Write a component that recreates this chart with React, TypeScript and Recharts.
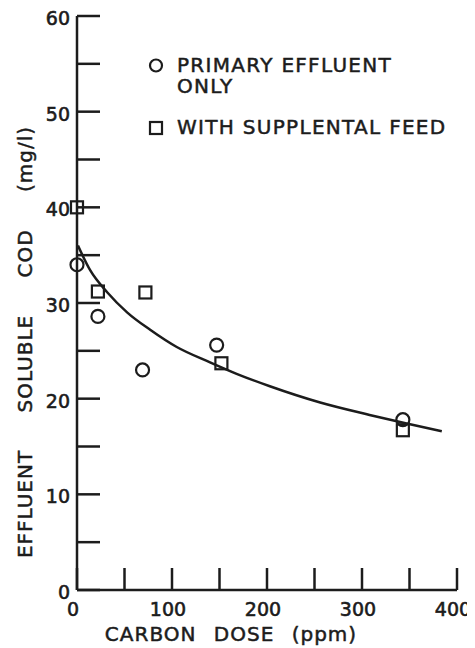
import { ComposedChart, XAxis, YAxis, Line, Scatter, Legend, Label } from 'recharts';

// axis ticks (every tick is drawn inside the frame, only some carry a number)
const doseTicks = [0, 50, 100, 150, 200, 250, 300, 350, 400];
const doseLabels = [0, 100, 200, 300, 400];
const codTicks = [0, 5, 10, 15, 20, 25, 30, 35, 40, 45, 50, 55, 60];
const codLabels = [0, 10, 20, 30, 40, 50, 60];

const seriesNames = ['PRIMARY EFFLUENT\nONLY', 'WITH SUPPLENTAL FEED'];

// measured points
const primaryDose = [0, 22, 69, 147, 343];
const primaryCod = [34.0, 28.6, 23.0, 25.6, 17.8];
const supplementDose = [0, 22, 72, 152, 343];
const supplementCod = [40.0, 31.2, 31.1, 23.7, 16.7];

// hand-drawn fitted curve
const fitDose = [1, 14, 32, 53, 77, 105, 140, 168, 203, 256, 308, 347, 384];
const fitCod = [36.0, 33.4, 31.1, 29.0, 27.2, 25.4, 23.8, 22.6, 21.3, 19.6, 18.3, 17.4, 16.6];

const INK = '#1c1c1c';
const FONT = '"DejaVu Sans", sans-serif';

const toRows = (xs: number[], ys: number[]) => xs.map((dose, i) => ({ dose, cod: ys[i] }));
const primary = toRows(primaryDose, primaryCod);
const supplement = toRows(supplementDose, supplementCod);
const fit = toRows(fitDose, fitCod);

const tickText = { fontFamily: FONT, fontSize: 19, fill: INK, stroke: INK, strokeWidth: 0.6 };

const BottomTick = ({ x, y, payload }: any) => (
  <g>
    <line x1={x} x2={x} y1={y} y2={y - 22} stroke={INK} strokeWidth={2.5} />
    {doseLabels.includes(payload.value) && (
      <text x={x - 4} y={y + 26} textAnchor="middle" {...tickText}>{payload.value}</text>
    )}
  </g>
);

const TopTick = ({ x, y }: any) => (
  <line x1={x} x2={x} y1={y} y2={y + 20} stroke={INK} strokeWidth={2.5} />
);

const LeftTick = ({ x, y, payload }: any) => (
  <g>
    <line x1={x} x2={x + 23} y1={y} y2={y} stroke={INK} strokeWidth={2.5} />
    {codLabels.includes(payload.value) && (
      <text x={x - 7} y={y + 9} textAnchor="end" {...tickText}>{payload.value}</text>
    )}
  </g>
);

const RightTick = ({ x, y }: any) => (
  <line x1={x} x2={x - 20} y1={y} y2={y} stroke={INK} strokeWidth={2.5} />
);

const OpenCircle = (p: any) => (
  <circle cx={p.cx} cy={p.cy} r={6.5} fill="none" stroke={INK} strokeWidth={2.2} />
);

const OpenSquare = (p: any) => (
  <rect x={p.cx - 6} y={p.cy - 6} width={12} height={12} fill="none" stroke={INK} strokeWidth={2.2} />
);

const LegendBox = ({ payload }: any) => (
  <div style={{ fontFamily: FONT, fontSize: 20, lineHeight: '21px', letterSpacing: 1.3, color: INK,
    WebkitTextStroke: '0.5px ' + INK }}>
    {(payload || []).filter((e: any) => seriesNames.includes(e.value)).map((entry: any, i: number) => (
      <div key={i} style={{ display: 'flex', alignItems: 'flex-start', marginBottom: 20 }}>
        <svg width={16} height={21} style={{ flex: 'none' }}>
          {entry.value === seriesNames[0]
            ? <circle cx={8} cy={10.5} r={6} fill="none" stroke={INK} strokeWidth={2.2} />
            : <rect x={2} y={5} width={12} height={12} fill="none" stroke={INK} strokeWidth={2.2} />}
        </svg>
        <span style={{ marginLeft: 13, whiteSpace: 'pre' }}>{entry.value}</span>
      </div>
    ))}
  </div>
);

const XTitle = ({ viewBox }: any) => (
  <text x={viewBox.x + 154} y={viewBox.y + 51} textAnchor="middle" fontFamily={FONT} fontSize={20}
    fill={INK} stroke={INK} strokeWidth={0.5} letterSpacing={1} wordSpacing={10}>
    CARBON DOSE (ppm)
  </text>
);

const YTitle = ({ viewBox }: any) => {
  const cx = viewBox.x + 24;
  const cy = viewBox.y + 326;
  return (
    <text x={cx} y={cy} transform={`rotate(-90, ${cx}, ${cy})`} textAnchor="middle" fontFamily={FONT}
      fontSize={20} fill={INK} stroke={INK} strokeWidth={0.5} letterSpacing={1} wordSpacing={30}>
      EFFLUENT SOLUBLE COD (mg/l)
    </text>
  );
};

export default function App() {
  const frame = { stroke: INK, strokeWidth: 2.5 };
  return (
    <ComposedChart width={467} height={640} margin={{ top: 8, right: 18, bottom: 0, left: 0 }}>
      <XAxis xAxisId="bottom" type="number" dataKey="dose" domain={[0, 400]} ticks={doseTicks} interval={0}
        height={58} tickSize={0} tickMargin={0} axisLine={frame} tick={<BottomTick />}>
        <Label content={<XTitle />} />
      </XAxis>
      <XAxis xAxisId="top" orientation="top" type="number" dataKey="dose" domain={[0, 400]} ticks={doseTicks}
        interval={0} height={0} tickSize={0} tickMargin={0} axisLine={frame} tick={<TopTick />} />
      <YAxis yAxisId="left" type="number" domain={[0, 60]} ticks={codTicks} interval={0} width={69}
        tickSize={0} tickMargin={0} axisLine={frame} tick={<LeftTick />}>
        <Label content={<YTitle />} />
      </YAxis>
      <YAxis yAxisId="right" orientation="right" type="number" domain={[0, 60]} ticks={codTicks} interval={0}
        width={0} tickSize={0} tickMargin={0} axisLine={frame} tick={<RightTick />} />
      <Legend layout="vertical" verticalAlign="middle" align="center" content={<LegendBox />}
        wrapperStyle={{ top: 47, left: 140, width: 320, height: 'auto' }} />
      <Line xAxisId="bottom" yAxisId="left" data={fit} dataKey="cod" type="monotone" stroke={INK}
        strokeWidth={2.5} dot={false} legendType="none" isAnimationActive={false} />
      <Scatter xAxisId="bottom" yAxisId="left" name={seriesNames[0]} data={primary} dataKey="cod"
        shape={<OpenCircle />} isAnimationActive={false} />
      <Scatter xAxisId="bottom" yAxisId="left" name={seriesNames[1]} data={supplement} dataKey="cod"
        shape={<OpenSquare />} isAnimationActive={false} />
    </ComposedChart>
  );
}
